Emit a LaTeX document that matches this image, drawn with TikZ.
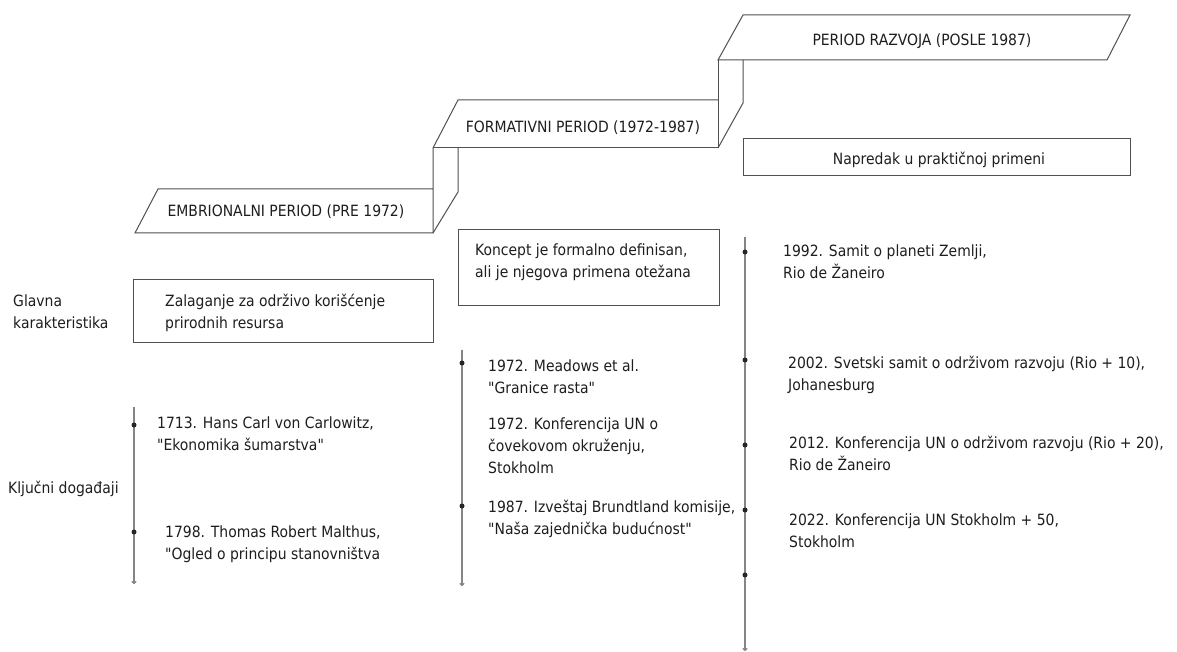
\documentclass[tikz,border=0pt]{standalone}
\usepackage{fontspec}
\setmainfont[Ligatures=TeXOff]{DejaVu Sans Condensed}
\usetikzlibrary{arrows.meta}
\definecolor{textc}{HTML}{1E1E1E}
\definecolor{boxc}{HTML}{505050}
\definecolor{linec}{HTML}{858585}
\newcommand{\mylines}[1]{\begin{tabular}[t]{@{}l@{}}#1\end{tabular}}
\begin{document}
\begin{tikzpicture}[x=1pt,y=-1pt,
  txt/.style={font=\fontsize{15.5}{22}\selectfont, text=textc, inner sep=0pt, anchor=base west},
  ttl/.style={font=\fontsize{15.5}{22}\selectfont, text=textc, inner sep=0pt, anchor=base},
  boxline/.style={draw=boxc, line width=1pt, line join=miter},
  box/.style={draw=boxc, line width=1pt, anchor=north west, inner sep=0pt},
  tline/.style={draw=linec, line width=1.2pt, -{To[length=3pt,width=5pt]}},
  dot/.style={circle, fill=black!85, inner sep=0pt, minimum size=5pt}]
\useasboundingbox (0,0) rectangle (1177,652);
\fill[white] (0,0) rectangle (1177,652);

% staircase
\draw[boxline] (433,189) -- (158,189) -- (135,233) -- (433,233) -- (433,148);
\draw[boxline] (433,148) -- (458,100) -- (718,100);
\draw[boxline] (433,148) -- (718,148) -- (718,60);
\draw[boxline] (718,60) -- (743,15) -- (1130,15) -- (1107,60) -- cycle;
\draw[boxline] (458,148) -- (458,192) -- (433,233);
\draw[boxline] (743,60) -- (743,103) -- (718,148);

\node[ttl] (emb) at (286,217) {EMBRIONALNI PERIOD (PRE 1972)};
\node[ttl] (form) at (583,133) {FORMATIVNI PERIOD (1972-1987)};
\node[ttl] (razv) at (922,46) {PERIOD RAZVOJA (POSLE 1987)};

% characteristic boxes
\node[box, minimum width=300, minimum height=63] (zalbox) at (133,279) {};
\node[box, minimum width=261, minimum height=76] (konbox) at (458,229) {};
\node[box, minimum width=387, minimum height=37] (napbox) at (743,138) {};

\node[txt] (glavna) at (13,306) {\mylines{Glavna\\karakteristika}};
\node[txt] (kljucni) at (8,493) {Ključni događaji};
\node[txt] (zal) at (165,306) {\mylines{Zalaganje za održivo korišćenje\\prirodnih resursa}};
\node[txt] (kon) at (475,255) {\mylines{Koncept je formalno definisan,\\ali je njegova primena otežana}};
\node[ttl] (nap) at (939,165) {Napredak u praktičnoj primeni};

% timelines
\coordinate (l1top) at (134,407);
\coordinate (l1bot) at (134,584);
\coordinate (l2top) at (462,350);
\coordinate (l2bot) at (462,586);
\coordinate (l3top) at (745,237);
\coordinate (l3bot) at (745,651);
\draw[tline] (l1top) -- (l1bot);
\draw[tline] (l2top) -- (l2bot);
\draw[tline] (l3top) -- (l3bot);

\node[dot] (d11) at (134,425) {};
\node[dot] (d12) at (134,532) {};
\node[dot] (d21) at (462,363) {};
\node[dot] (d22) at (462,506) {};
\node[dot] (d31) at (745,252) {};
\node[dot] (d32) at (745,360) {};
\node[dot] (d33) at (745,445) {};
\node[dot] (d34) at (745,510) {};
\node[dot] (d35) at (745,575) {};

% events
\node[txt] (e1713) at (157,428) {\mylines{1713. Hans Carl von Carlowitz,\\"Ekonomika šumarstva"}};
\node[txt] (e1798) at (165,537) {\mylines{1798. Thomas Robert Malthus,\\"Ogled o principu stanovništva}};
\node[txt] (m1) at (488,371) {\mylines{1972. Meadows et al.\\"Granice rasta"}};
\node[txt] (m2) at (488,429) {\mylines{1972. Konferencija UN o\\čovekovom okruženju,\\Stokholm}};
\node[txt] (m3) at (488,512) {\mylines{1987. Izveštaj Brundtland komisije,\\"Naša zajednička budućnost"}};
\node[txt] (r1) at (783,257) {\mylines{1992. Samit o planeti Zemlji,\\Rio de Žaneiro}};
\node[txt] (r2) at (788,368) {\mylines{2002. Svetski samit o održivom razvoju (Rio + 10),\\Johanesburg}};
\node[txt] (r3) at (789,448) {\mylines{2012. Konferencija UN o održivom razvoju (Rio + 20),\\Rio de Žaneiro}};
\node[txt] (r4) at (789,525) {\mylines{2022. Konferencija UN Stokholm + 50,\\Stokholm}};
\end{tikzpicture}
\end{document}
